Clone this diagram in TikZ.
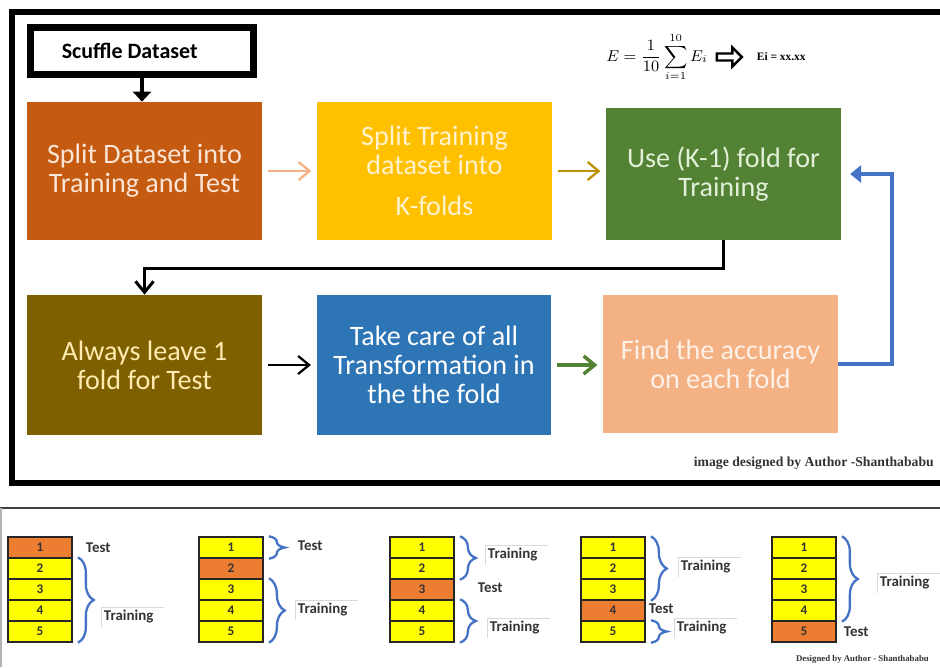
\documentclass[tikz,border=0pt]{standalone}
\usepackage{amsmath}
\usepackage[no-math]{fontspec}
\setmainfont{Carlito}
\newfontfamily\credfont{Liberation Serif}
\usetikzlibrary{arrows.meta,positioning,shapes.arrows,decorations.pathreplacing,calc}

\definecolor{boxsplit}{HTML}{C55A11}
\definecolor{boxkfold}{HTML}{FFC000}
\definecolor{boxuse}{HTML}{548235}
\definecolor{boxleave}{HTML}{7F6000}
\definecolor{boxtrans}{HTML}{2E75B6}
\definecolor{boxacc}{HTML}{F4B183}
\definecolor{txtsplit}{HTML}{FBE5D6}
\definecolor{txtkfold}{HTML}{FFF2CC}
\definecolor{txtuse}{HTML}{E2F0D9}
\definecolor{txtleave}{HTML}{FFEBB0}
\definecolor{txtacc}{HTML}{FDF1E8}
\definecolor{arrorange}{HTML}{F4B183}
\definecolor{arrgold}{HTML}{BF9000}
\definecolor{linkblue}{HTML}{4472C4}
\definecolor{foldtrain}{HTML}{FFFF00}
\definecolor{foldtest}{HTML}{ED7D31}

\newcommand{\meanerr}{E=\frac{1}{10}\sum_{i=1}^{10}E_i}

\begin{document}
\begin{tikzpicture}[
  x=0.02cm,y=-0.02cm,
  font=\fontsize{16}{16.5}\selectfont,
  blk/.style={minimum width=4.7cm,minimum height=2.76cm,align=center,inner sep=2pt},
  cell/.style={draw=black!85,line width=0.8pt,minimum width=1.28cm,minimum height=0.42cm,
               inner sep=0pt,font=\bfseries\fontsize{7.5}{8}\selectfont,text=black!80},
  brc/.style={draw=linkblue,line width=1.3pt,decorate,decoration={brace,amplitude=9pt}},
  lbl/.style={anchor=west,inner sep=1.5pt,font=\bfseries\fontsize{8.5}{10}\selectfont,text=black!80},
  trn/.style={lbl,text width=1.15cm,align=left,
              append after command={(\tikzlastnode.south west) edge[draw=black!15,line width=0.5pt] (\tikzlastnode.north west)
                                    (\tikzlastnode.north west) edge[draw=black!15,line width=0.5pt] (\tikzlastnode.north east)}},
  barb/.style={-{Straight Barb[length=2.2mm,width=3.6mm]}}
]
\useasboundingbox (0,0) rectangle (940,667);
\clip (0,0) rectangle (940,667);

\draw[line width=2.9pt] (12,12) rectangle (955,483);

\node[draw,line width=3.8pt,minimum width=4.45cm,minimum height=0.93cm,
      font=\bfseries\fontsize{12.5}{13}\selectfont] (scuf) at (142,51) {Scuffle Dataset\kern14pt};

\node[blk,fill=boxsplit,text=txtsplit] (split) at (144.5,171) {Split Dataset into\\Training and Test};
\node[blk,fill=boxkfold,text=txtkfold] (kfold) at (434.5,171) {Split Training\\dataset into\\[7pt]K-folds};
\node[blk,fill=boxuse,text=txtuse,minimum height=2.64cm] (usek) at (723.5,174) {Use (K-1) fold for\\Training};
\node[blk,fill=boxleave,text=txtleave,minimum height=2.8cm] (leave) at (144.5,365) {Always leave 1\\fold for Test};
\node[blk,fill=boxtrans,text=white,minimum height=2.8cm] (trans) at (434,365) {Take care of all\\Transformation in\\the the fold};
\node[blk,fill=boxacc,text=txtacc] (acc) at (720.5,364) {Find the accuracy\\on each fold};

\node (frm) at (657,57) {\fontsize{9}{10}\selectfont$\displaystyle\meanerr$};
\node[single arrow,draw,line width=1.4pt,minimum height=0.5cm,minimum width=0.38cm,
      single arrow head extend=1.2pt,inner sep=0pt,right=1pt of frm] (barr) {};
\node[right=4pt of barr,font=\credfont\bfseries\fontsize{6.5}{7}\selectfont] (res) {Ei = xx.xx};

\draw[-{Triangle[length=2mm,width=3.6mm]},line width=2.6pt] (scuf.south) -- (scuf.south |- split.north);
\draw[barb,line width=1.3pt,draw=arrorange,shorten <=3pt,shorten >=3pt] (split) -- (kfold);
\draw[barb,line width=1.3pt,draw=arrgold,shorten <=3pt,shorten >=3pt] (kfold.east) -- (kfold.east -| usek.west);
\coordinate (ret) at (0,268);
\draw[barb,line width=1.7pt] (usek.south) -- (usek.south |- ret) -| (leave.north);
\draw[barb,line width=1.3pt,shorten <=3pt,shorten >=3pt] (leave) -- (trans);
\draw[barb,line width=2pt,draw=boxuse,shorten <=3pt,shorten >=3pt] (trans.east) -- (trans.east -| acc.west);
\coordinate (loop) at (892,0);
\draw[-{Triangle[length=2.2mm,width=3.4mm]},line width=1.9pt,draw=linkblue,shorten >=5pt]
  (acc.east) -| (loop |- usek.east) -- (usek.east);

\node[anchor=east,font=\credfont\bfseries\fontsize{7.8}{9}\selectfont,text=black!80] (cred) at (940,463)
  {image designed by Author -Shanthababu};

\draw[line width=1.4pt,black!75] (0,508) -- (940,508);
\draw[line width=0.6pt,black!30] (1,508) -- (1,667);

\foreach \s in {1,...,5}
  \foreach \r in {1,...,5}{
    \ifnum\r=\s\relax\def\fc{foldtest}\else\def\fc{foldtrain}\fi
    \node[cell,fill=\fc] (c\s-\r) at ({40+191*(\s-1)},{547.5+21*(\r-1)}) {\r};
  }

\draw[brc] ([xshift=3pt]c1-2.north east) -- ([xshift=3pt]c1-5.south east);
\draw[brc] ([xshift=3pt]c2-1.north east) -- ([xshift=3pt]c2-1.south east);
\draw[brc] ([xshift=3pt]c2-3.north east) -- ([xshift=3pt]c2-5.south east);
\draw[brc] ([xshift=3pt]c3-1.north east) -- ([xshift=3pt]c3-2.south east);
\draw[brc] ([xshift=3pt]c3-4.north east) -- ([xshift=3pt]c3-5.south east);
\draw[brc] ([xshift=3pt]c4-1.north east) -- ([xshift=3pt]c4-3.south east);
\draw[brc] ([xshift=3pt]c4-5.north east) -- ([xshift=3pt]c4-5.south east);
\draw[brc] ([xshift=3pt]c5-1.north east) -- ([xshift=3pt]c5-4.south east);

\node[lbl] (t1) at (83,548) {Test};
\node[trn] (r1) at (101,617) {Training};
\node[lbl] (t2) at (295,546) {Test};
\node[trn] (r2) at (295,610) {Training};
\node[trn] (r3a) at (485,555) {Training};
\node[lbl] (t3) at (475,588) {Test};
\node[trn] (r3b) at (487,628) {Training};
\node[trn] (r4a) at (678,567) {Training};
\node[lbl] (t4) at (646,609) {Test};
\node[trn] (r4b) at (674,628) {Training};
\node[trn] (r5) at (877,583) {Training};
\node[lbl] (t5) at (841,632) {Test};

\node[anchor=east,font=\credfont\bfseries\fontsize{5}{6}\selectfont,text=black!80] (cred2) at (935,659)
  {Designed by Author - Shanthababu};
\end{tikzpicture}
\end{document}
